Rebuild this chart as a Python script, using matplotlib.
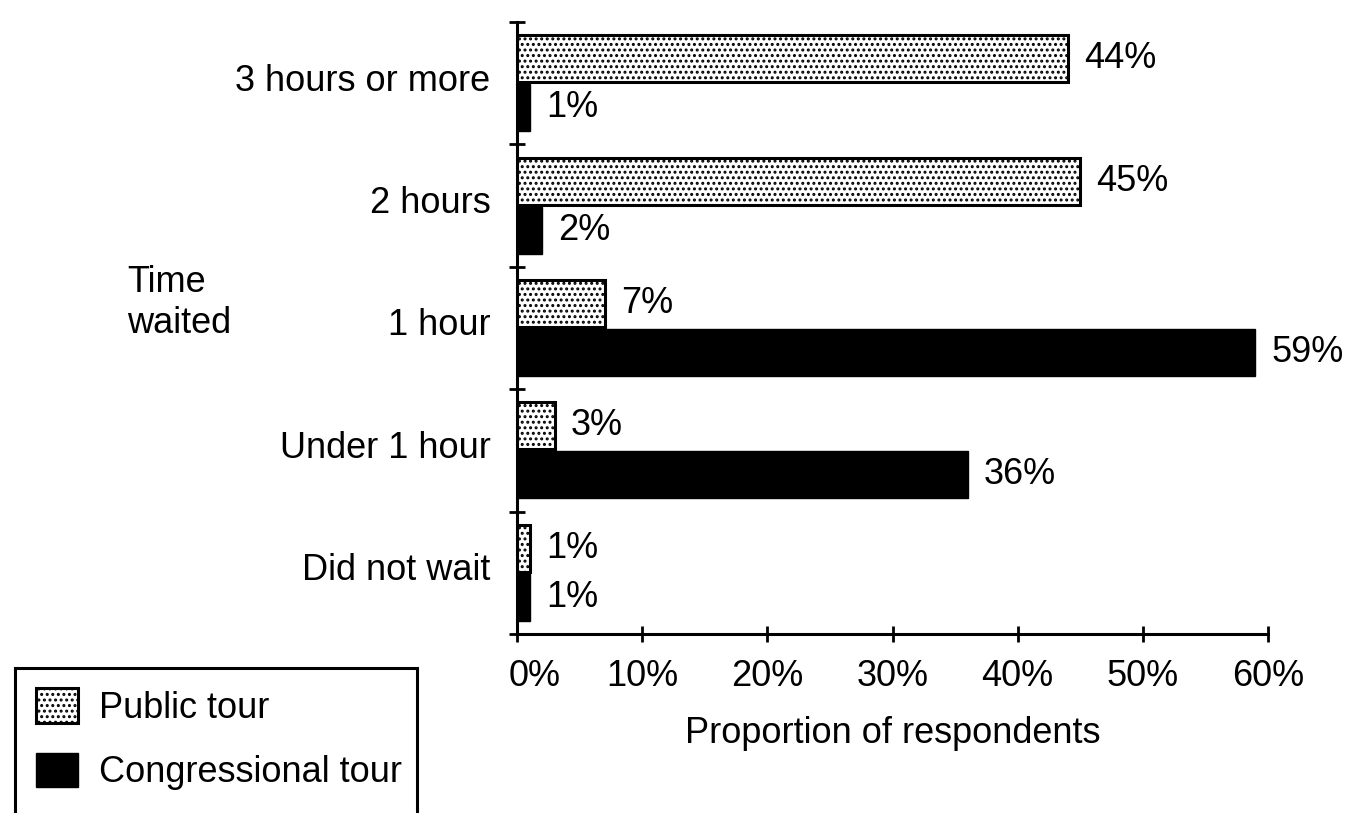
import numpy as np
import matplotlib.pyplot as plt
from matplotlib.patches import Patch, Rectangle

plt.rcParams['font.family'] = ['Liberation Sans', 'DejaVu Sans']
plt.rcParams['hatch.linewidth'] = 1.4

# categories listed bottom to top
categories = ['Did not wait', 'Under 1 hour', '1 hour', '2 hours', '3 hours or more']
public_tour = [1, 3, 7, 45, 44]
congressional_tour = [1, 36, 59, 2, 1]
x_ticks = [0, 10, 20, 30, 40, 50, 60]

FS = 26

fig = plt.figure(figsize=(13.45, 8.13), dpi=100)
ax = fig.add_axes([517 / 1345, 1 - 634 / 813, (1268 - 517) / 1345, (634 - 22) / 813])

y = np.arange(len(categories)) + 0.5
h = 0.385
off = 0.2

ax.barh(y + off, public_tour, height=h, color='white', edgecolor='black',
        hatch='...', linewidth=2.2, label='Public tour')
ax.barh(y - off, congressional_tour, height=h, color='black', edgecolor='black',
        linewidth=1.0, label='Congressional tour')

for yy, v in zip(y + off, public_tour):
    ax.text(v + 1.3, yy, f'{v}%', va='center', ha='left', fontsize=FS)
for yy, v in zip(y - off, congressional_tour):
    ax.text(v + 1.3, yy, f'{v}%', va='center', ha='left', fontsize=FS)

ax.set_xlim(0, 60)
ax.set_ylim(0, 5)
ax.set_xticks(x_ticks)
# 0% is drawn separately, shifted right of the y axis
ax.set_xticklabels([''] + [f'{t}%' for t in x_ticks[1:]], fontsize=FS)
ax.annotate(f'{x_ticks[0]}%', xy=(x_ticks[0], 0), xycoords=('data', 'axes fraction'),
            xytext=(13, -18), textcoords='offset points', ha='center', va='top',
            fontsize=FS)

ax.set_yticks(np.arange(0, 6))
ax.set_yticklabels([])
ax.set_yticks(y + 0.05, minor=True)
ax.set_yticklabels(categories, minor=True, fontsize=FS)
ax.tick_params(axis='y', which='minor', length=0, pad=19)
ax.tick_params(axis='both', which='major', direction='inout', length=12, width=2)
ax.tick_params(axis='x', pad=12)

for s in ['top', 'right']:
    ax.spines[s].set_visible(False)
for s in ['left', 'bottom']:
    ax.spines[s].set_linewidth(2.2)

ax.set_xlabel('Proportion of respondents', fontsize=FS, labelpad=16)
fig.text(127 / 1345, 1 - 303 / 813, 'Time\nwaited', fontsize=FS, ha='left', va='center',
         linespacing=1.2)

# legend frame runs off the bottom edge
fig.patches.append(Rectangle((15 / 1345, -0.05), (417 - 15) / 1345, (0.05 + 1 - 668 / 813),
                             transform=fig.transFigure, fill=False, edgecolor='black',
                             linewidth=2.2))
handles = [Patch(facecolor='white', edgecolor='black', hatch='...', linewidth=2.2),
           Patch(facecolor='black', edgecolor='black')]
fig.legend(handles, ['Public tour', 'Congressional tour'], loc='upper left',
           bbox_to_anchor=(36 / 1345, 1 - 688 / 813), frameon=False, fontsize=FS,
           handlelength=1.15, handleheight=1.1, handletextpad=0.6, labelspacing=0.75,
           borderaxespad=0, borderpad=0)

fig.savefig('out.png', dpi=100)
